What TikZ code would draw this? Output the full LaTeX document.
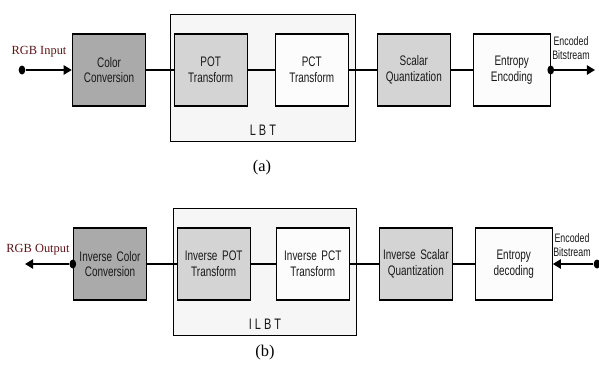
\documentclass[tikz,border=0pt]{standalone}
\usepackage{xcolor}
\usepackage{fontspec}
\setmainfont{Liberation Serif}
\setsansfont{Liberation Sans}[FakeStretch=0.72]
\usepackage{tikz}
\usetikzlibrary{shapes.geometric,arrows.meta,positioning,fit,backgrounds,calc}
\definecolor{lbtdark}{RGB}{170,170,170}
\definecolor{lbtlight}{RGB}{212,212,212}
\definecolor{lbtpale}{RGB}{246,246,246}
\definecolor{lbtwhite}{RGB}{252,252,252}
\definecolor{lbttext}{RGB}{25,25,25}
\definecolor{lbtred}{RGB}{95,20,25}

\begin{document}
\begin{tikzpicture}[
    x=0.03cm, y=-0.03cm,
    node distance = 0.8cm,
    font=\sffamily\fontsize{11.8}{13.4}\selectfont,
    box/.style={
        rectangle, draw, line width=0.9pt,
        minimum width=2.2cm, minimum height=2.16cm,
        text width=2.1cm, align=center, inner sep=1pt, text=lbttext
    },
    darkbox/.style={box,  fill=lbtdark},
    lightbox/.style={box, fill=lbtlight},
    whitebox/.style={box, fill=lbtwhite},
    link/.style={line width=1.3pt},
    arrow/.style={-{Triangle[length=7pt, width=8pt]}, line width=1.5pt},
    dot/.style={ellipse, fill, inner sep=0pt, minimum width=0.2cm, minimum height=0.27cm},
    layer/.style={rectangle, draw, line width=0.9pt, fill=lbtpale, inner sep=0pt},
    iolabel/.style={font=\rmfamily\fontsize{10.6}{12}\selectfont, text=lbtred, inner sep=0pt},
    bslabel/.style={font=\sffamily\fontsize{10.5}{12.5}\selectfont, text=lbttext, align=center, inner sep=0pt},
    grouplabel/.style={font=\sffamily\fontsize{13}{15}\selectfont, text=lbttext, inner sep=0pt},
    caption/.style={font=\rmfamily\fontsize{14}{16}\selectfont, inner sep=0pt}
]
\useasboundingbox (0,0) rectangle (599,365);

% (a) encoder
\node[darkbox] (cc) at (109,70) {Color\\Conversion};
\node[lightbox, right=0.82cm of cc]  (pot) {POT\\Transform};
\node[whitebox, right=0.8cm of pot]  (pct) {PCT\\Transform};
\node[lightbox, right=0.83cm of pct] (sq)  {Scalar\\Quantization};
\node[whitebox, right=0.65cm of sq, minimum width=2.31cm] (ee) {Entropy\\Encoding};

\node[dot] (in) at (22,70) {};
\node[dot] (encout) at (ee.east) {};
\coordinate (bsout) at (595,70);

\node[iolabel] (rgbin) at (39,52) {RGB Input};
\node[bslabel] (bsa) at (571,48) {Encoded\\Bitstream};

\draw[arrow] (in) -- (cc);
\draw[link] (cc)  -- (pot);
\draw[link] (pot) -- (pct);
\draw[link] (pct) -- (sq);
\draw[link] (sq)  -- (ee);
\draw[arrow] (encout) -- (bsout);

% (b) decoder
\node[darkbox] (icc) at (110,264) {Inverse Color\\Conversion};
\node[lightbox, right=0.88cm of icc]  (ipot) {Inverse POT\\Transform};
\node[whitebox, right=0.74cm of ipot] (ipct) {Inverse PCT\\Transform};
\node[lightbox, right=0.86cm of ipct] (isq)  {Inverse Scalar\\Quantization};
\node[whitebox, right=0.65cm of isq, minimum width=2.31cm] (ed) {Entropy\\decoding};

\node[dot] (decout) at (icc.west) {};
\node[dot] (bsin) at (597,264) {};
\coordinate (rgbout) at (25,264);

\node[iolabel] (rgbo) at (38,250) {RGB Output};
\node[bslabel] (bsb) at (572,245) {Encoded\\Bitstream};

\draw[arrow] (decout) -- (rgbout);
\draw[link] (icc)  -- (ipot);
\draw[link] (ipot) -- (ipct);
\draw[link] (ipct) -- (isq);
\draw[link] (isq)  -- (ed);
\draw[arrow] (bsin) -- (ed);

\begin{pgfonlayer}{background}
\node[layer, fit={($(pot.north west)+(-0.1cm,0.58cm)$) ($(pct.south east)+(0.2cm,-1.06cm)$)}] (lbt) {};
\node[layer, fit={($(ipot.north west)+(-0.1cm,0.58cm)$) ($(ipct.south east)+(0.2cm,-1.06cm)$)}] (ilbt) {};
\end{pgfonlayer}
\node[grouplabel, above=0.2cm of lbt.south]  (lbtname)  {L B T};
\node[grouplabel, above=0.2cm of ilbt.south] (ilbtname) {I L B T};

\node[caption] (capa) at (262,168) {(a)};
\node[caption] (capb) at (265,353) {(b)};
\end{tikzpicture}
\end{document}
